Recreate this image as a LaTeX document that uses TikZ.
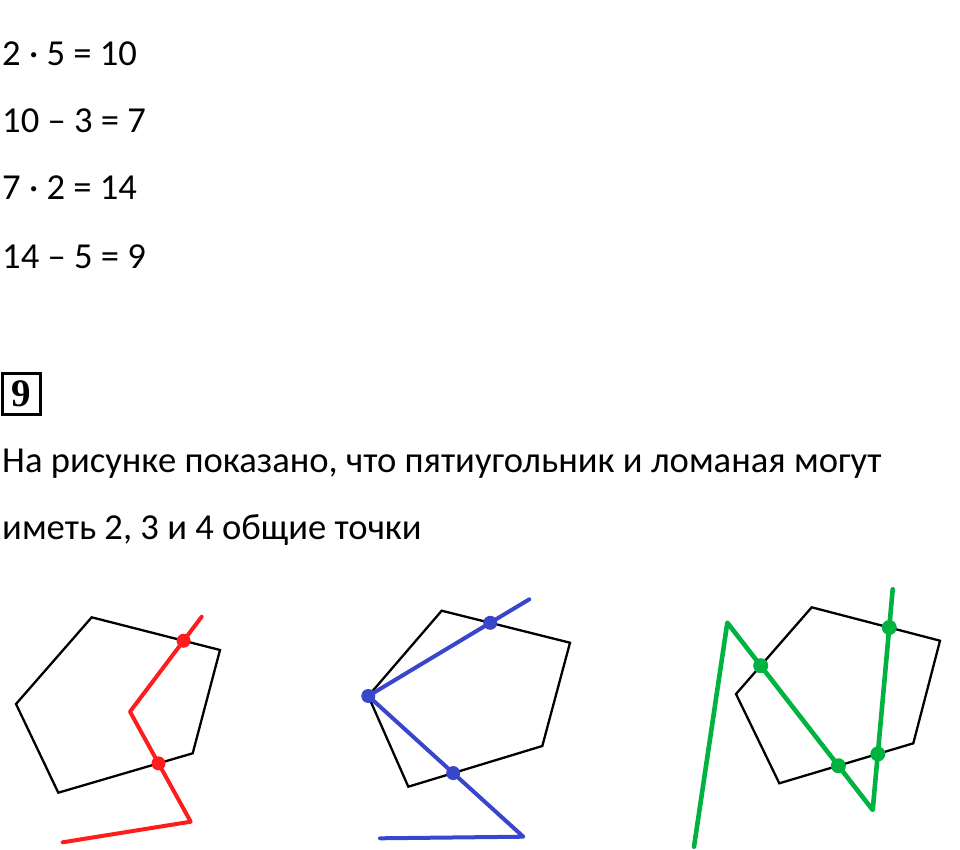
\documentclass[tikz,border=0pt]{standalone}
\usepackage{fontspec}
\setmainfont{Carlito}
\newfontfamily\numfont{Liberation Serif}
\usetikzlibrary{positioning}
\definecolor{redl}{RGB}{255,28,28}
\definecolor{bluel}{RGB}{56,70,204}
\definecolor{greenl}{RGB}{0,178,64}
\tikzstyle{txt}=[anchor=base west, inner sep=0pt, font=\fontsize{36.6}{43}\selectfont]
\tikzstyle{numbox}=[draw, line width=2.6pt, minimum width=38pt, minimum height=41pt, inner sep=0pt, font=\numfont\bfseries\fontsize{39}{44}\selectfont]
\tikzstyle{pent}=[draw=black, line width=2.3pt, line join=miter]
\tikzstyle{rline}=[draw=redl, line width=4pt, line join=round, line cap=round]
\tikzstyle{bline}=[draw=bluel, line width=4pt, line join=round, line cap=round]
\tikzstyle{gline}=[draw=greenl, line width=4.6pt, line join=round, line cap=round]
\tikzstyle{rdot}=[circle, fill=redl, inner sep=0pt, minimum size=14pt]
\tikzstyle{bdot}=[circle, fill=bluel, inner sep=0pt, minimum size=14pt]
\tikzstyle{gdot}=[circle, fill=greenl, inner sep=0pt, minimum size=15pt]

\begin{document}
\begin{tikzpicture}[x=1pt, y=-1pt]
\useasboundingbox (0,0) rectangle (960,850);
%
  \node[txt] (e1) at (2,66) {2 · 5 = 10};
  \node[txt] (e2) at (2,133) {10 – 3 = 7};
  \node[txt] (e3) at (2,200) {7 · 2 = 14};
  \node[txt] (e4) at (2,268) {14 – 5 = 9};
  \node[numbox] (n9) at (21.5,394) {9};
  \node[txt] (t1) at (2,472) {На рисунке показано, что пятиугольник и ломаная могут};
  \node[txt] (t2) at (2,539) {иметь 2, 3 и 4 общие точки};
%
% first pentagon, two common points
  \coordinate (p1a) at (91.7,617.3);
  \coordinate (p1b) at (220,650);
  \coordinate (p1c) at (192.7,753.3);
  \coordinate (p1d) at (58.3,792.7);
  \coordinate (p1e) at (16,704);
  \coordinate (r1) at (201.7,616.7);
  \coordinate (r2) at (130,711.7);
  \coordinate (r3) at (190.7,821.7);
  \coordinate (r4) at (62.7,842.3);
  \draw[pent] (p1a) -- (p1b) -- (p1c) -- (p1d) -- (p1e) -- cycle;
  \draw[rline] (r1) -- (r2) -- (r3) -- (r4);
  \node[rdot] (rx1) at (intersection of p1a--p1b and r1--r2) {};
  \node[rdot] (rx2) at (intersection of p1c--p1d and r2--r3) {};
%
% second pentagon, three common points
  \coordinate (p2a) at (441.7,610.7);
  \coordinate (p2b) at (570,642.7);
  \coordinate (p2c) at (542.3,746);
  \coordinate (p2d) at (408.3,786.7);
  \coordinate (p2e) at (368.3,696);
  \coordinate (b1) at (529.3,599.3);
  \coordinate (b3) at (523.3,836.7);
  \coordinate (b4) at (380,838.3);
  \draw[pent] (p2a) -- (p2b) -- (p2c) -- (p2d) -- (p2e) -- cycle;
  \draw[bline] (b1) -- (p2e) -- (b3) -- (b4);
  \node[bdot] (bx1) at (intersection of p2a--p2b and b1--p2e) {};
  \node[bdot] (bx2) at (p2e) {};
  \node[bdot] (bx3) at (intersection of p2c--p2d and p2e--b3) {};
%
% third pentagon, four common points
  \coordinate (p3a) at (811.7,607.3);
  \coordinate (p3b) at (940,640.7);
  \coordinate (p3c) at (913.3,743.3);
  \coordinate (p3d) at (779.3,783.3);
  \coordinate (p3e) at (736,694);
  \coordinate (g1) at (694,846.7);
  \coordinate (g2) at (727.3,622.7);
  \coordinate (g3) at (872.7,810);
  \coordinate (g4) at (892.7,589.3);
  \draw[pent] (p3a) -- (p3b) -- (p3c) -- (p3d) -- (p3e) -- cycle;
  \draw[gline] (g1) -- (g2) -- (g3) -- (g4);
  \node[gdot] (gx1) at (intersection of p3e--p3a and g2--g3) {};
  \node[gdot] (gx2) at (intersection of p3c--p3d and g2--g3) {};
  \node[gdot] (gx3) at (intersection of p3a--p3b and g3--g4) {};
  \node[gdot] (gx4) at (intersection of p3c--p3d and g3--g4) {};
%
\end{tikzpicture}
\end{document}
